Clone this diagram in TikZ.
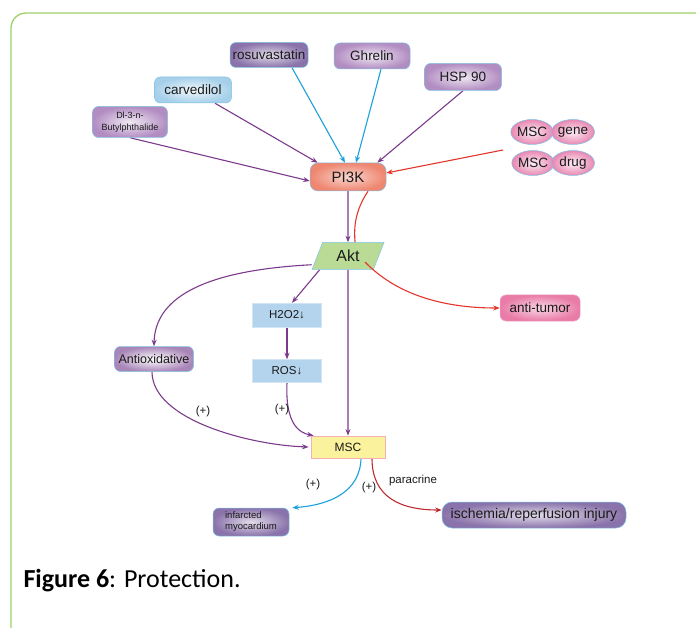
\documentclass[tikz,border=0pt]{standalone}
\usepackage{fontspec}
\setmainfont{Liberation Sans}
\newfontfamily\capfont{Carlito}
\usetikzlibrary{arrows.meta}
\usetikzlibrary{shapes.geometric}
\usetikzlibrary{backgrounds}
\usepackage{xcolor}
\definecolor{framegreen}{HTML}{9DD16A}
\definecolor{edgeblue}{HTML}{7CC3E6}
\definecolor{txt}{HTML}{1A1A1A}
\definecolor{dpurout}{HTML}{8A73AA}
\definecolor{lpurout}{HTML}{B28DC2}
\definecolor{cblue}{HTML}{A6D0EA}
\definecolor{pinkout}{HTML}{E887B2}
\definecolor{salmon}{HTML}{EE8670}
\definecolor{tumor}{HTML}{E97BA7}
\definecolor{aktgreen}{HTML}{BADB96}
\definecolor{roxblue}{HTML}{B4D3EC}
\definecolor{mscyel}{HTML}{FBF29E}
\definecolor{mscrim}{HTML}{F3B1B4}
\definecolor{purp}{HTML}{7B3A8C}
\definecolor{lblue}{HTML}{1AA0DA}
\definecolor{lred}{HTML}{E3352B}
\definecolor{dred}{HTML}{BE2A2F}

\begin{document}
\begin{tikzpicture}[x=1pt,y=-1pt,
  pbox/.style={rounded corners=6pt,draw=edgeblue,line width=0.5pt,inner sep=1pt,align=center,text=txt,font=\fontsize{13.5}{14}\selectfont},
  dpur/.style={pbox,inner color=dpurout!25!white,outer color=dpurout},
  lpur/.style={pbox,inner color=lpurout!20!white,outer color=lpurout},
  pinkell/.style={ellipse,draw=edgeblue,line width=0.5pt,inner sep=0pt,text=txt,inner color=pinkout!15!white,outer color=pinkout,minimum height=25pt,font=\fontsize{13.5}{14}\selectfont},
  roxbox/.style={draw=roxblue!60!white,fill=roxblue,minimum width=69pt,minimum height=24pt,text=txt,font=\fontsize{11.5}{12}\selectfont},
  arr/.style={-{Stealth[length=6.5pt,width=5pt]},line width=1.1pt},
  plus/.style={text=txt,font=\fontsize{11.5}{12}\selectfont}]
\useasboundingbox (0,0) rectangle (696,628);

\node[dpur,minimum width=78pt,minimum height=25pt] (rosu) at (269,55) {rosuvastatin};
\node[lpur,minimum width=76pt,minimum height=26pt] (ghre) at (372,56) {Ghrelin};
\node[lpur,minimum width=77pt,minimum height=27pt] (hsp) at (463,77) {HSP 90};
\node[pbox,inner color=cblue!15!white,outer color=cblue,minimum width=77pt,minimum height=26pt] (carv) at (193,90) {carvedilol};
\node[lpur,minimum width=75pt,minimum height=31pt,font=\fontsize{9}{12}\selectfont] (butyl) at (130,122) {Dl-3-n-\\Butylphthalide};
\node[pbox,rounded corners=8pt,inner color=salmon!35!white,outer color=salmon,minimum width=76pt,minimum height=28pt,font=\fontsize{15}{16}\selectfont] (pik) at (348,177) {PI3K};

\node[pinkell,minimum width=39pt] (msca) at (532,132) {MSC};
\node[pinkell,minimum width=43pt] (gene) at (573,132) {gene};
\node[pinkell,minimum width=39pt] (mscb) at (533,163) {MSC};
\node[pinkell,minimum width=43pt] (drug) at (573,163) {drug};
\coordinate (msrc) at (503,150);

\node[trapezium,trapezium left angle=60,trapezium right angle=120,trapezium stretches body,draw=edgeblue,line width=0.5pt,fill=aktgreen,minimum width=72pt,minimum height=27pt,text=txt,font=\fontsize{16}{17}\selectfont] (akt) at (348,256) {Akt};
\node[pbox,draw=tumor!70!white,inner color=tumor!30!white,outer color=tumor,minimum width=80pt,minimum height=26pt,font=\fontsize{13.5}{14}\selectfont] (tumor) at (540,308) {anti-tumor};

\node[roxbox] (hoo) at (287,315) {H2O2↓};
\node[roxbox,minimum height=23pt] (ros) at (287,371) {ROS↓};
\node[pbox,inner color=white,outer color=lpurout!95!black,minimum width=79pt,minimum height=25pt,font=\fontsize{12.5}{13}\selectfont] (antiox) at (154,359) {Antioxidative};
\node[draw=mscrim,line width=0.8pt,fill=mscyel,minimum width=74pt,minimum height=22pt,text=txt,font=\fontsize{12}{13}\selectfont] (msc) at (348,447) {MSC};

\node[dpur,minimum width=76pt,minimum height=28pt,font=\fontsize{9.5}{11}\selectfont,align=left] (inf) at (251,522) {infarcted\\myocardium};
\node[dpur,rounded corners=10pt,minimum width=184pt,minimum height=26pt,font=\fontsize{14}{15}\selectfont] (isch) at (534,515) {ischemia/reperfusion injury};

\node[plus] (p1) at (203,412) {(+)};
\node[plus] (p2) at (282,410) {(+)};
\node[plus] (p3) at (313,485) {(+)};
\node[plus] (p4) at (369,488) {(+)};
\node[plus] (para) at (413,481) {paracrine};

\node[anchor=base west,text=black,font=\capfont\fontsize{26}{28}\selectfont] (cap) at (20,587) {\textbf{Figure 6}: Protection.};

\coordinate (akin) at (365,262);
\draw[arr,lred] (akin) .. controls (395,293) and (440,308) .. (tumor.west);

\begin{scope}[on background layer]
\clip (0,0) rectangle (696,628);
\draw[framegreen,line width=1.3pt,rounded corners=15pt] (11,660) -- (11,13) -- (720,13);

\draw[arr,purp] (butyl.south) -- ([yshift=-4pt]pik.west);
\draw[arr,purp] ([xshift=22pt]carv.south) -- ([xshift=8pt]pik.north west);
\draw[arr,lblue] ([xshift=23pt]rosu.south) -- ([xshift=-3pt]pik.north);
\draw[arr,lblue] ([xshift=9pt]ghre.south) -- ([xshift=8pt]pik.north);
\draw[arr,purp] (hsp.south) -- ([xshift=-9pt]pik.north east);
\draw[arr,lred] (msrc) -- ([yshift=4pt]pik.east);

\draw[arr,purp] (pik.south) -- (akt.north);
\draw[lred,line width=1.1pt] ([xshift=20pt]pik.south) .. controls (352,215) and (354,235) .. (356,250);

\draw[arr,purp] ([yshift=5pt]akt.bottom left corner) .. controls (210,270) and (155,295) .. (antiox.north);
\draw[arr,purp] ([xshift=8pt]akt.bottom left corner) -- ([xshift=5pt]hoo.north);
\draw[arr,purp] (hoo.south) -- (ros.north);
\draw[arr,purp] (akt.south) -- (msc.north);
\draw[arr,purp] (ros.south) .. controls (285,425) and (300,433) .. ([xshift=3pt]msc.north west);
\draw[arr,purp] ([xshift=-2pt]antiox.south) .. controls (152,420) and (250,445) .. ([xshift=-2pt]msc.west);

\draw[arr,lblue] ([xshift=13pt]msc.south) .. controls (360,492) and (330,505) .. ([xshift=3pt]inf.north east);
\draw[arr,dred] ([xshift=24pt]msc.south) .. controls (372,497) and (400,510) .. ([yshift=5pt]isch.west);
\end{scope}
\end{tikzpicture}
\end{document}
